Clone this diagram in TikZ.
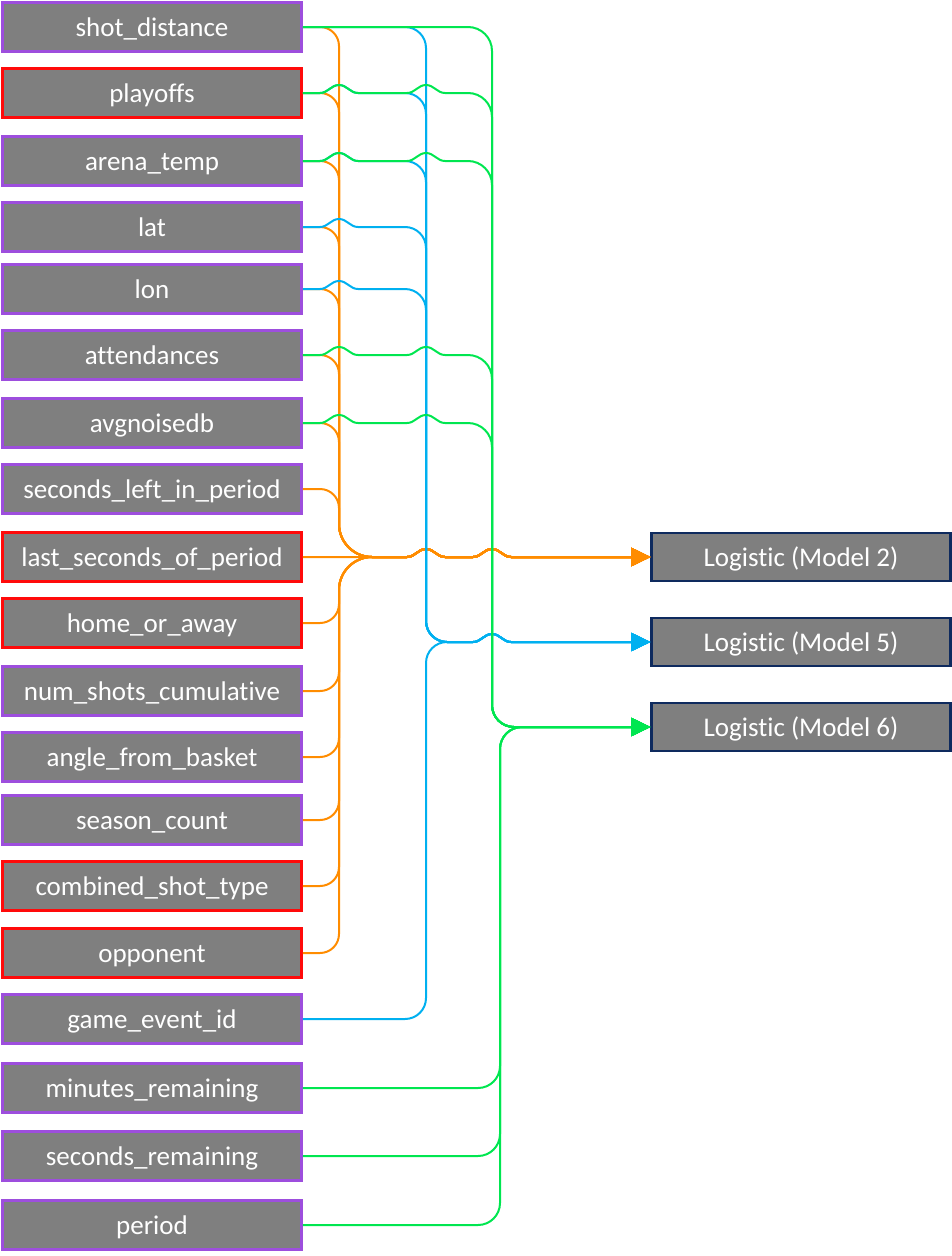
\documentclass[tikz,border=0pt]{standalone}
\usepackage{fontspec}
\setmainfont{Carlito}[Ligatures=NoCommon]
\usetikzlibrary{arrows.meta,calc}
\definecolor{lav}{HTML}{9D4EDD}
\definecolor{scarlet}{HTML}{FF0A0A}
\definecolor{navy}{HTML}{0E2A5E}
\definecolor{slate}{HTML}{7F7F7F}
\definecolor{amber}{HTML}{FF8C00}
\definecolor{sky}{HTML}{00B0F0}
\definecolor{lime}{HTML}{00E650}
% line jump over the column of #2, on the row of #1
\newcommand{\hop}[2]{-- ($(#1 -| #2)+(-19,0)$) to[out=0,in=180] ($(#1 -| #2)+(0,-8)$)
  to[out=0,in=180] ($(#1 -| #2)+(19,0)$)}
% row #1 bends into column #2 (radius #3)
\newcommand{\turndown}[3]{-- ($(#1 -| #2)+(-#3,0)$) to[out=0,in=90] ($(#1 -| #2)+(0,#3)$)}
\newcommand{\turnup}[3]{-- ($(#1 -| #2)+(-#3,0)$) to[out=0,in=-90] ($(#1 -| #2)+(0,-#3)$)}
% column #2 bends into row #1 (radius #3)
\newcommand{\fromabove}[3]{-- ($(#1 -| #2)+(0,-#3)$) to[out=-90,in=180] ($(#1 -| #2)+(#3,0)$)}
\newcommand{\frombelow}[3]{-- ($(#1 -| #2)+(0,#3)$) to[out=90,in=180] ($(#1 -| #2)+(#3,0)$)}

\begin{document}
\begin{tikzpicture}[x=1pt,y=-1pt,font=\fontsize{27}{32}\selectfont,
    basebox/.style={fill=slate,text=white,line width=2.6pt,minimum width=299pt,
      minimum height=49pt,text height=21pt,text depth=3pt,inner sep=0pt},
    featbox/.style={basebox,draw=lav},
    catbox/.style={basebox,draw=scarlet},
    modelbox/.style={basebox,draw=navy,line width=2.2pt,minimum height=48pt},
    wire/.style={line width=2pt,-{Triangle[length=19pt,width=18pt]}}]
    \useasboundingbox (0,0) rectangle (952,1256);

    \node[featbox] (sdist) at (152,27) {shot\_distance};
    \node[catbox] (playoffs) at (152,93) {playoffs};
    \node[featbox] (atemp) at (152,161) {arena\_temp};
    \node[featbox] (lat) at (152,227) {lat};
    \node[featbox] (lon) at (152,289) {lon};
    \node[featbox] (attend) at (152,355) {attendances};
    \node[featbox] (noise) at (152,423) {avgnoisedb};
    \node[featbox] (secleft) at (152,489) {seconds\_left\_in\_period};
    \node[catbox] (lastsec) at (152,557) {last\_seconds\_of\_period};
    \node[catbox] (home) at (152,623) {home\_or\_away};
    \node[featbox] (nshots) at (152,691) {num\_shots\_cumulative};
    \node[featbox] (angle) at (152,757) {angle\_from\_basket};
    \node[featbox] (season) at (152,820) {season\_count};
    \node[catbox] (stype) at (152,886) {combined\_shot\_type};
    \node[catbox] (opp) at (152,953) {opponent};
    \node[featbox] (eventid) at (152,1019) {game\_event\_id};
    \node[featbox] (minrem) at (152,1088) {minutes\_remaining};
    \node[featbox] (secrem) at (152,1156) {seconds\_remaining};
    \node[featbox] (period) at (152,1225) {period};

    \node[modelbox] (mtwo) at (801,557) {Logistic (Model 2)};
    \node[modelbox] (mfive) at (801,642) {Logistic (Model 5)};
    \node[modelbox] (msix) at (801,727) {Logistic (Model 6)};

    \coordinate (oT) at (339,0);
    \coordinate (bT) at (426,0);
    \coordinate (gT) at (492,0);
    \coordinate (gB) at (500,0);

    % Model 2
    \draw[wire,amber] (sdist.east) \turndown{sdist.east}{oT}{19} \fromabove{mtwo.west}{oT}{33} \hop{mtwo.west}{bT} \hop{mtwo.west}{gT} -- (mtwo.west);
    \draw[wire,amber] (playoffs.east) \turndown{playoffs.east}{oT}{19} \fromabove{mtwo.west}{oT}{33} \hop{mtwo.west}{bT} \hop{mtwo.west}{gT} -- (mtwo.west);
    \draw[wire,amber] (atemp.east) \turndown{atemp.east}{oT}{19} \fromabove{mtwo.west}{oT}{33} \hop{mtwo.west}{bT} \hop{mtwo.west}{gT} -- (mtwo.west);
    \draw[wire,amber] (lat.east) \turndown{lat.east}{oT}{19} \fromabove{mtwo.west}{oT}{33} \hop{mtwo.west}{bT} \hop{mtwo.west}{gT} -- (mtwo.west);
    \draw[wire,amber] (lon.east) \turndown{lon.east}{oT}{19} \fromabove{mtwo.west}{oT}{33} \hop{mtwo.west}{bT} \hop{mtwo.west}{gT} -- (mtwo.west);
    \draw[wire,amber] (attend.east) \turndown{attend.east}{oT}{19} \fromabove{mtwo.west}{oT}{33} \hop{mtwo.west}{bT} \hop{mtwo.west}{gT} -- (mtwo.west);
    \draw[wire,amber] (noise.east) \turndown{noise.east}{oT}{19} \fromabove{mtwo.west}{oT}{33} \hop{mtwo.west}{bT} \hop{mtwo.west}{gT} -- (mtwo.west);
    \draw[wire,amber] (secleft.east) \turndown{secleft.east}{oT}{19} \fromabove{mtwo.west}{oT}{33} \hop{mtwo.west}{bT} \hop{mtwo.west}{gT} -- (mtwo.west);
    \draw[wire,amber] (lastsec.east) \hop{mtwo.west}{bT} \hop{mtwo.west}{gT} -- (mtwo.west);
    \draw[wire,amber] (home.east) \turnup{home.east}{oT}{19} \frombelow{mtwo.west}{oT}{33} \hop{mtwo.west}{bT} \hop{mtwo.west}{gT} -- (mtwo.west);
    \draw[wire,amber] (nshots.east) \turnup{nshots.east}{oT}{19} \frombelow{mtwo.west}{oT}{33} \hop{mtwo.west}{bT} \hop{mtwo.west}{gT} -- (mtwo.west);
    \draw[wire,amber] (angle.east) \turnup{angle.east}{oT}{19} \frombelow{mtwo.west}{oT}{33} \hop{mtwo.west}{bT} \hop{mtwo.west}{gT} -- (mtwo.west);
    \draw[wire,amber] (season.east) \turnup{season.east}{oT}{19} \frombelow{mtwo.west}{oT}{33} \hop{mtwo.west}{bT} \hop{mtwo.west}{gT} -- (mtwo.west);
    \draw[wire,amber] (stype.east) \turnup{stype.east}{oT}{19} \frombelow{mtwo.west}{oT}{33} \hop{mtwo.west}{bT} \hop{mtwo.west}{gT} -- (mtwo.west);
    \draw[wire,amber] (opp.east) \turnup{opp.east}{oT}{19} \frombelow{mtwo.west}{oT}{33} \hop{mtwo.west}{bT} \hop{mtwo.west}{gT} -- (mtwo.west);

    % Model 5
    \draw[wire,sky] (sdist.east) \turndown{sdist.east}{bT}{21} \fromabove{mfive.west}{bT}{21} \hop{mfive.west}{gT} -- (mfive.west);
    \draw[wire,sky] (playoffs.east) \hop{playoffs.east}{oT} \turndown{playoffs.east}{bT}{21} \fromabove{mfive.west}{bT}{21} \hop{mfive.west}{gT} -- (mfive.west);
    \draw[wire,sky] (atemp.east) \hop{atemp.east}{oT} \turndown{atemp.east}{bT}{21} \fromabove{mfive.west}{bT}{21} \hop{mfive.west}{gT} -- (mfive.west);
    \draw[wire,sky] (lat.east) \hop{lat.east}{oT} \turndown{lat.east}{bT}{21} \fromabove{mfive.west}{bT}{21} \hop{mfive.west}{gT} -- (mfive.west);
    \draw[wire,sky] (lon.east) \hop{lon.east}{oT} \turndown{lon.east}{bT}{21} \fromabove{mfive.west}{bT}{21} \hop{mfive.west}{gT} -- (mfive.west);
    \draw[wire,sky] (eventid.east) \turnup{eventid.east}{bT}{21} \frombelow{mfive.west}{bT}{21} \hop{mfive.west}{gT} -- (mfive.west);

    % Model 6
    \draw[wire,lime] (sdist.east) \turndown{sdist.east}{gT}{24} \fromabove{msix.west}{gT}{22} -- (msix.west);
    \draw[wire,lime] (playoffs.east) \hop{playoffs.east}{oT} \hop{playoffs.east}{bT} \turndown{playoffs.east}{gT}{24} \fromabove{msix.west}{gT}{22} -- (msix.west);
    \draw[wire,lime] (atemp.east) \hop{atemp.east}{oT} \hop{atemp.east}{bT} \turndown{atemp.east}{gT}{24} \fromabove{msix.west}{gT}{22} -- (msix.west);
    \draw[wire,lime] (attend.east) \hop{attend.east}{oT} \hop{attend.east}{bT} \turndown{attend.east}{gT}{24} \fromabove{msix.west}{gT}{22} -- (msix.west);
    \draw[wire,lime] (noise.east) \hop{noise.east}{oT} \hop{noise.east}{bT} \turndown{noise.east}{gT}{24} \fromabove{msix.west}{gT}{22} -- (msix.west);
    \draw[wire,lime] (minrem.east) \turnup{minrem.east}{gB}{22} \frombelow{msix.west}{gB}{22} -- (msix.west);
    \draw[wire,lime] (secrem.east) \turnup{secrem.east}{gB}{22} \frombelow{msix.west}{gB}{22} -- (msix.west);
    \draw[wire,lime] (period.east) \turnup{period.east}{gB}{22} \frombelow{msix.west}{gB}{22} -- (msix.west);
\end{tikzpicture}
\end{document}
